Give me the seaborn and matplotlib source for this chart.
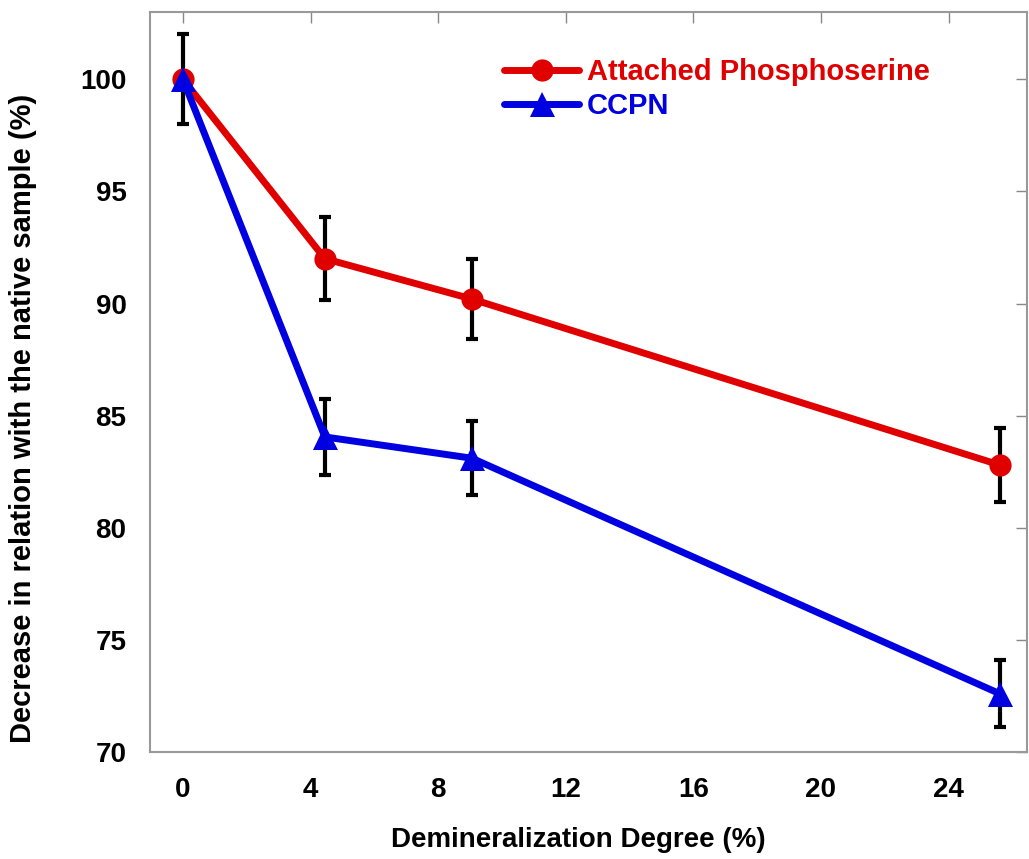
import numpy as np
import matplotlib
matplotlib.use('Agg')
import matplotlib.pyplot as plt
import pandas as pd
import seaborn as sns

# data
degree = [0, 4.45, 9.06, 25.6]
phospho = [100.0, 92.0, 90.2, 82.8]
phospho_err = [2.0, 1.85, 1.8, 1.65]
ccpn = [100.0, 84.05, 83.1, 72.6]
ccpn_err = [0.0, 1.7, 1.65, 1.5]
xticks = [0, 4, 8, 12, 16, 20, 24]
yticks = [70, 75, 80, 85, 90, 95, 100]

sns.set_style('white')
plt.rcParams['font.family'] = ['Liberation Sans', 'DejaVu Sans']
plt.rcParams['text.color'] = 'black'
plt.rcParams['axes.labelcolor'] = 'black'

df = pd.DataFrame({'degree': degree * 2,
                   'value': phospho + ccpn,
                   'series': ['Attached Phosphoserine'] * 4 + ['CCPN'] * 4})

red = '#e00000'
blue = '#0000e0'

fig = plt.figure(figsize=(10.29, 8.59), dpi=100)
ax = fig.add_axes([0.1458, 0.1246, 0.852, 0.8614])

# error bars first so the markers sit on top
ax.errorbar(degree, phospho, yerr=phospho_err, fmt='none', ecolor='black',
            elinewidth=3, capsize=4.5, capthick=3, zorder=1)
ax.errorbar(degree, ccpn, yerr=ccpn_err, fmt='none', ecolor='black',
            elinewidth=3, capsize=4.5, capthick=3, zorder=1)

sns.lineplot(data=df, x='degree', y='value', hue='series', style='series',
             palette=[red, blue], markers=['o', '^'], dashes=False,
             linewidth=5, markersize=16, markeredgewidth=0, ax=ax, zorder=3)
for ln in ax.lines:
    if ln.get_marker() == '^':
        ln.set_markersize(18)

ax.set_xlim(-1.03, 26.45)
ax.set_ylim(70, 103)
ax.set_xticks(xticks)
ax.set_yticks(yticks)
ax.tick_params(direction='in', length=8, width=1, color='#888888',
               labelcolor='black', top=True, right=True, labelsize=20)
ax.tick_params(axis='y', pad=17)
ax.tick_params(axis='x', pad=18)
for lab in ax.get_xticklabels() + ax.get_yticklabels():
    lab.set_fontweight('bold')
for s in ax.spines.values():
    s.set_color('#999999')
    s.set_linewidth(1.5)

ax.set_xlabel('Demineralization Degree (%)', fontsize=20, fontweight='bold')
ax.set_ylabel('Decrease in relation with the native sample (%)', fontsize=21,
              fontweight='bold')
ax.xaxis.set_label_coords(0.488, -0.101)
ax.yaxis.set_label_coords(-0.129, 0.451)

leg = ax.legend(loc='upper left', bbox_to_anchor=(0.39, 0.954), frameon=False,
                prop={'weight': 'bold', 'size': 21},
                handlelength=2.6, handletextpad=0.25, labelspacing=0.22,
                borderaxespad=0)
for txt, c in zip(leg.get_texts(), [red, blue]):
    txt.set_color(c)

fig.savefig('out.png', dpi=100)
